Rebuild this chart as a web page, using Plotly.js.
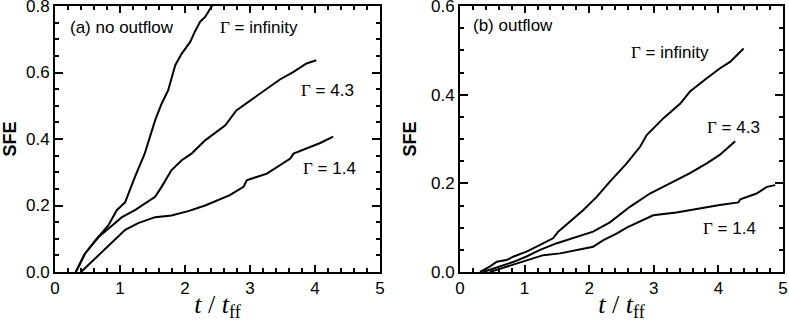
<!DOCTYPE html>
<html>
<head>
<meta charset="utf-8">
<script src="https://cdn.plot.ly/plotly-3.0.1.min.js"></script>
<style>
html,body{margin:0;padding:0;background:#fff;}
#wrap{position:relative;width:789px;height:322px;}
#chartA{position:absolute;left:0;top:0;width:400px;height:322px;}
#chartB{position:absolute;left:400px;top:0;width:389px;height:322px;}
</style>
</head>
<body>
<div id="wrap"><div id="chartA"></div><div id="chartB"></div></div>
<script>
// Panel (a) no outflow
const aInfT = [0.32, 0.46, 0.62, 0.82, 0.95, 1.08, 1.23, 1.38, 1.54, 1.64, 1.74, 1.85, 1.95, 2.08, 2.15, 2.23, 2.31, 2.38, 2.46];
const aInfS = [0, 0.055, 0.095, 0.14, 0.186, 0.21, 0.286, 0.356, 0.456, 0.506, 0.546, 0.622, 0.657, 0.692, 0.722, 0.752, 0.767, 0.792, 0.815];
const a43T = [0.32, 0.46, 0.67, 0.82, 1.03, 1.23, 1.54, 1.64, 1.79, 1.95, 2.10, 2.31, 2.49, 2.62, 2.79, 3.0, 3.26, 3.46, 3.67, 3.87, 4.02];
const a43S = [0, 0.055, 0.105, 0.13, 0.165, 0.186, 0.226, 0.256, 0.306, 0.336, 0.356, 0.396, 0.421, 0.441, 0.486, 0.516, 0.552, 0.579, 0.602, 0.627, 0.637];
const a14T = [0.40, 0.56, 0.77, 0.92, 1.08, 1.28, 1.54, 1.79, 2.05, 2.31, 2.62, 2.69, 2.90, 2.95, 3.26, 3.46, 3.62, 3.67, 3.87, 4.08, 4.28];
const a14S = [0, 0.03, 0.07, 0.10, 0.127, 0.147, 0.165, 0.17, 0.183, 0.20, 0.226, 0.231, 0.256, 0.276, 0.296, 0.321, 0.341, 0.356, 0.371, 0.388, 0.407];
// Panel (b) outflow
const bInfT = [0.31, 0.46, 0.57, 0.72, 0.83, 1.03, 1.24, 1.44, 1.52, 1.70, 1.91, 2.12, 2.32, 2.58, 2.79, 2.89, 3.15, 3.41, 3.56, 3.82, 4.02, 4.18, 4.39];
const bInfS = [0, 0.012, 0.023, 0.027, 0.035, 0.046, 0.061, 0.076, 0.091, 0.113, 0.14, 0.17, 0.204, 0.245, 0.283, 0.309, 0.347, 0.38, 0.407, 0.437, 0.459, 0.474, 0.504];
const b43T = [0.36, 0.62, 0.83, 1.03, 1.24, 1.50, 1.75, 2.06, 2.32, 2.63, 2.94, 3.25, 3.56, 3.82, 4.02, 4.26];
const b43S = [0, 0.012, 0.023, 0.035, 0.05, 0.065, 0.076, 0.091, 0.112, 0.147, 0.177, 0.2, 0.223, 0.245, 0.264, 0.295];
const b14T = [0.46, 0.72, 1.03, 1.29, 1.55, 1.81, 2.06, 2.22, 2.43, 2.58, 2.84, 2.99, 3.35, 3.72, 4.02, 4.31, 4.34, 4.59, 4.75, 4.88];
const b14S = [0, 0.012, 0.027, 0.038, 0.042, 0.05, 0.057, 0.072, 0.087, 0.10, 0.117, 0.128, 0.134, 0.144, 0.151, 0.157, 0.164, 0.177, 0.192, 0.196];

const xTicks = [0, 1, 2, 3, 4, 5];
const yTicksA = [0, 0.2, 0.4, 0.6, 0.8];
const yTicksB = [0, 0.2, 0.4, 0.6];
const panelLabels = ['(a) no outflow', '(b) outflow'];
const gammaLabels = ['infinity', '4.3', '1.4'];

const line = {color: '#000', width: 2};
function tr(x, y) { return {x: x, y: y, type: 'scatter', mode: 'lines', line: line, showlegend: false, hoverinfo: 'skip'}; }

const tickFont = {family: 'Liberation Sans, Arial, sans-serif', size: 17, color: '#000'};
function xax() {
  return {range: [0, 5], tickmode: 'array', tickvals: xTicks,
    showline: true, linecolor: '#000', linewidth: 2, mirror: 'allticks',
    ticks: 'inside', ticklen: 7, tickwidth: 2, tickcolor: '#000',
    minor: {dtick: 0.2, ticks: 'inside', ticklen: 4, tickwidth: 2, tickcolor: '#000'},
    showgrid: false, zeroline: false, tickfont: tickFont,
    title: {text: '<i>t</i> / <i>t</i><sub>ff</sub>', font: {family: 'Liberation Serif, Times New Roman, serif', size: 26, color: '#000'}, standoff: 4}};
}
function yax(top, vals, standoff) {
  return {range: [0, top], tickmode: 'array', tickvals: vals, tickformat: '.1f',
    showline: true, linecolor: '#000', linewidth: 2, mirror: 'allticks', ticklabeloverflow: 'allow',
    ticks: 'inside', ticklen: 8, tickwidth: 2, tickcolor: '#000',
    minor: {dtick: 0.05, ticks: 'inside', ticklen: 4, tickwidth: 2, tickcolor: '#000'},
    showgrid: false, zeroline: false, tickfont: tickFont,
    title: {text: '<b>SFE</b>', font: {family: 'Liberation Sans, Arial, sans-serif', size: 18, color: '#000'}, standoff: standoff}};
}

const G = '<span style="font-family:Liberation Serif, Times New Roman, serif">Γ</span> = ';
const annFont = {family: 'Liberation Sans, Arial, sans-serif', size: 17, color: '#000'};
function ann(text, x, y) { return {text: text, x: x, y: y, xref: 'x', yref: 'y', xanchor: 'left', yanchor: 'middle', showarrow: false, font: annFont}; }

const layoutA = {
  width: 400, height: 322,
  margin: {l: 55, r: 20, t: 6, b: 50},
  paper_bgcolor: 'rgba(0,0,0,0)', plot_bgcolor: '#fff',
  xaxis: xax(), yaxis: yax(0.8, yTicksA, 6),
  annotations: [
    ann(panelLabels[0], 0.2, 0.736),
    ann(G + gammaLabels[0], 2.5, 0.736),
    ann(G + gammaLabels[1], 3.76, 0.546),
    ann(G + gammaLabels[2], 3.78, 0.312)
  ]
};
const layoutB = {
  width: 389, height: 322,
  margin: {l: 60, r: 6, t: 6, b: 50},
  paper_bgcolor: 'rgba(0,0,0,0)', plot_bgcolor: '#fff',
  xaxis: xax(), yaxis: yax(0.6, yTicksB, 14),
  annotations: [
    ann(panelLabels[1], 0.17, 0.557),
    ann(G + gammaLabels[0], 2.62, 0.494),
    ann(G + gammaLabels[1], 3.8, 0.327),
    ann(G + gammaLabels[2], 3.73, 0.099)
  ]
};

// Plotly draws the tick marks; lift copies of them to the top SVG layer so nothing hides them.
function liftTicks(gd) {
  const svgs = gd.querySelectorAll('svg.main-svg');
  if (!svgs.length) return;
  const top = svgs[svgs.length - 1];
  const g = document.createElementNS('http://www.w3.org/2000/svg', 'g');
  g.setAttribute('class', 'lifted-ticks');
  gd.querySelectorAll('path.xtick, path.ytick').forEach(p => g.appendChild(p.cloneNode(true)));
  top.appendChild(g);
}

const cfg = {staticPlot: true, displayModeBar: false};
Plotly.newPlot('chartA', [tr(aInfT, aInfS), tr(a43T, a43S), tr(a14T, a14S)], layoutA, cfg).then(liftTicks);
Plotly.newPlot('chartB', [tr(bInfT, bInfS), tr(b43T, b43S), tr(b14T, b14S)], layoutB, cfg).then(liftTicks);
</script>
</body>
</html>
